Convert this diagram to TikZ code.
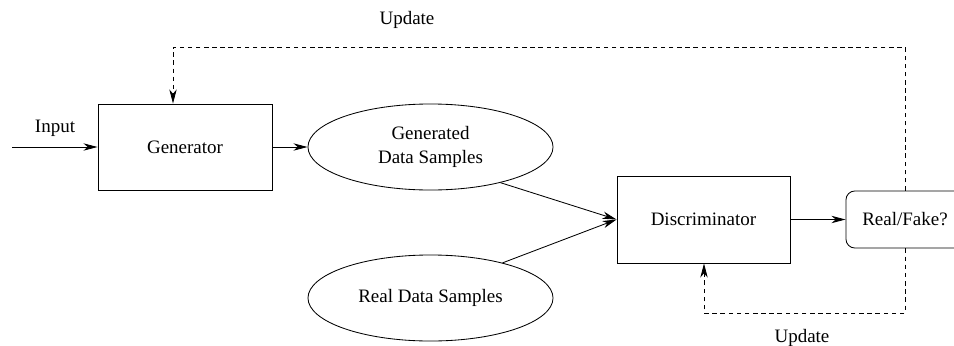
\documentclass[tikz,border=0pt]{standalone}
\usepackage{fontspec}
\setmainfont{Liberation Serif}
\usepackage{tikz}
\usetikzlibrary{arrows.meta, positioning, shapes.geometric, calc}

\tikzset{
  block/.style={draw, line width=0.6pt, minimum width=4.35cm, minimum height=2.15cm},
  dataset/.style={draw, ellipse, line width=0.6pt, inner sep=0pt,
    minimum width=6.125cm, minimum height=2.15cm, align=center},
  verdict/.style={draw, rounded corners=0.22cm, line width=0.6pt,
    minimum width=2.95cm, minimum height=1.425cm},
  flow/.style={->, line width=0.6pt},
  feedback/.style={->, line width=0.6pt, dash pattern=on 3.2pt off 2.6pt},
}

\begin{document}
\begin{tikzpicture}[>={Stealth[length=10pt, width=5.2pt, inset=3pt]},
    x=0.025cm, y=0.025cm, font=\fontsize{13.5}{17}\selectfont]
  \useasboundingbox (0,0) rectangle (954,345);

  % main blocks
  \node[block] (gen) at (185,198) {Generator};
  \node[dataset] (fake) at (430.5,198) {Generated\\Data Samples};
  \node[dataset] (real) at (430.5,47) {Real Data Samples};
  \node[block, minimum width=4.325cm, minimum height=2.175cm] (disc) at (703.5,125.5) {Discriminator};
  \node[verdict] (rf) at (905,125.5) {Real/Fake?};

  % input
  \coordinate (in) at (12,198);
  \node (inlbl) at (55,217) {Input};
  \draw[flow] (in) -- (gen.west);

  % forward path
  \draw[flow] (gen.east) -- (fake.west);
  \draw[flow] (fake.-27) -- (disc.west);
  \draw[flow] (real.26) -- (disc.west);
  \draw[flow] (disc.east) -- (rf.west);

  % feedback loops
  \coordinate (tl) at (173,298);
  \coordinate (br) at (704,32);
  \draw[feedback] (rf.north) |- (tl) -- (tl |- gen.north);
  \draw[feedback] (rf.south) |- (br) -- (br |- disc.south);
  \node (updtop) at (407,325) {Update};
  \node (updbot) at (802,7) {Update};
\end{tikzpicture}
\end{document}
